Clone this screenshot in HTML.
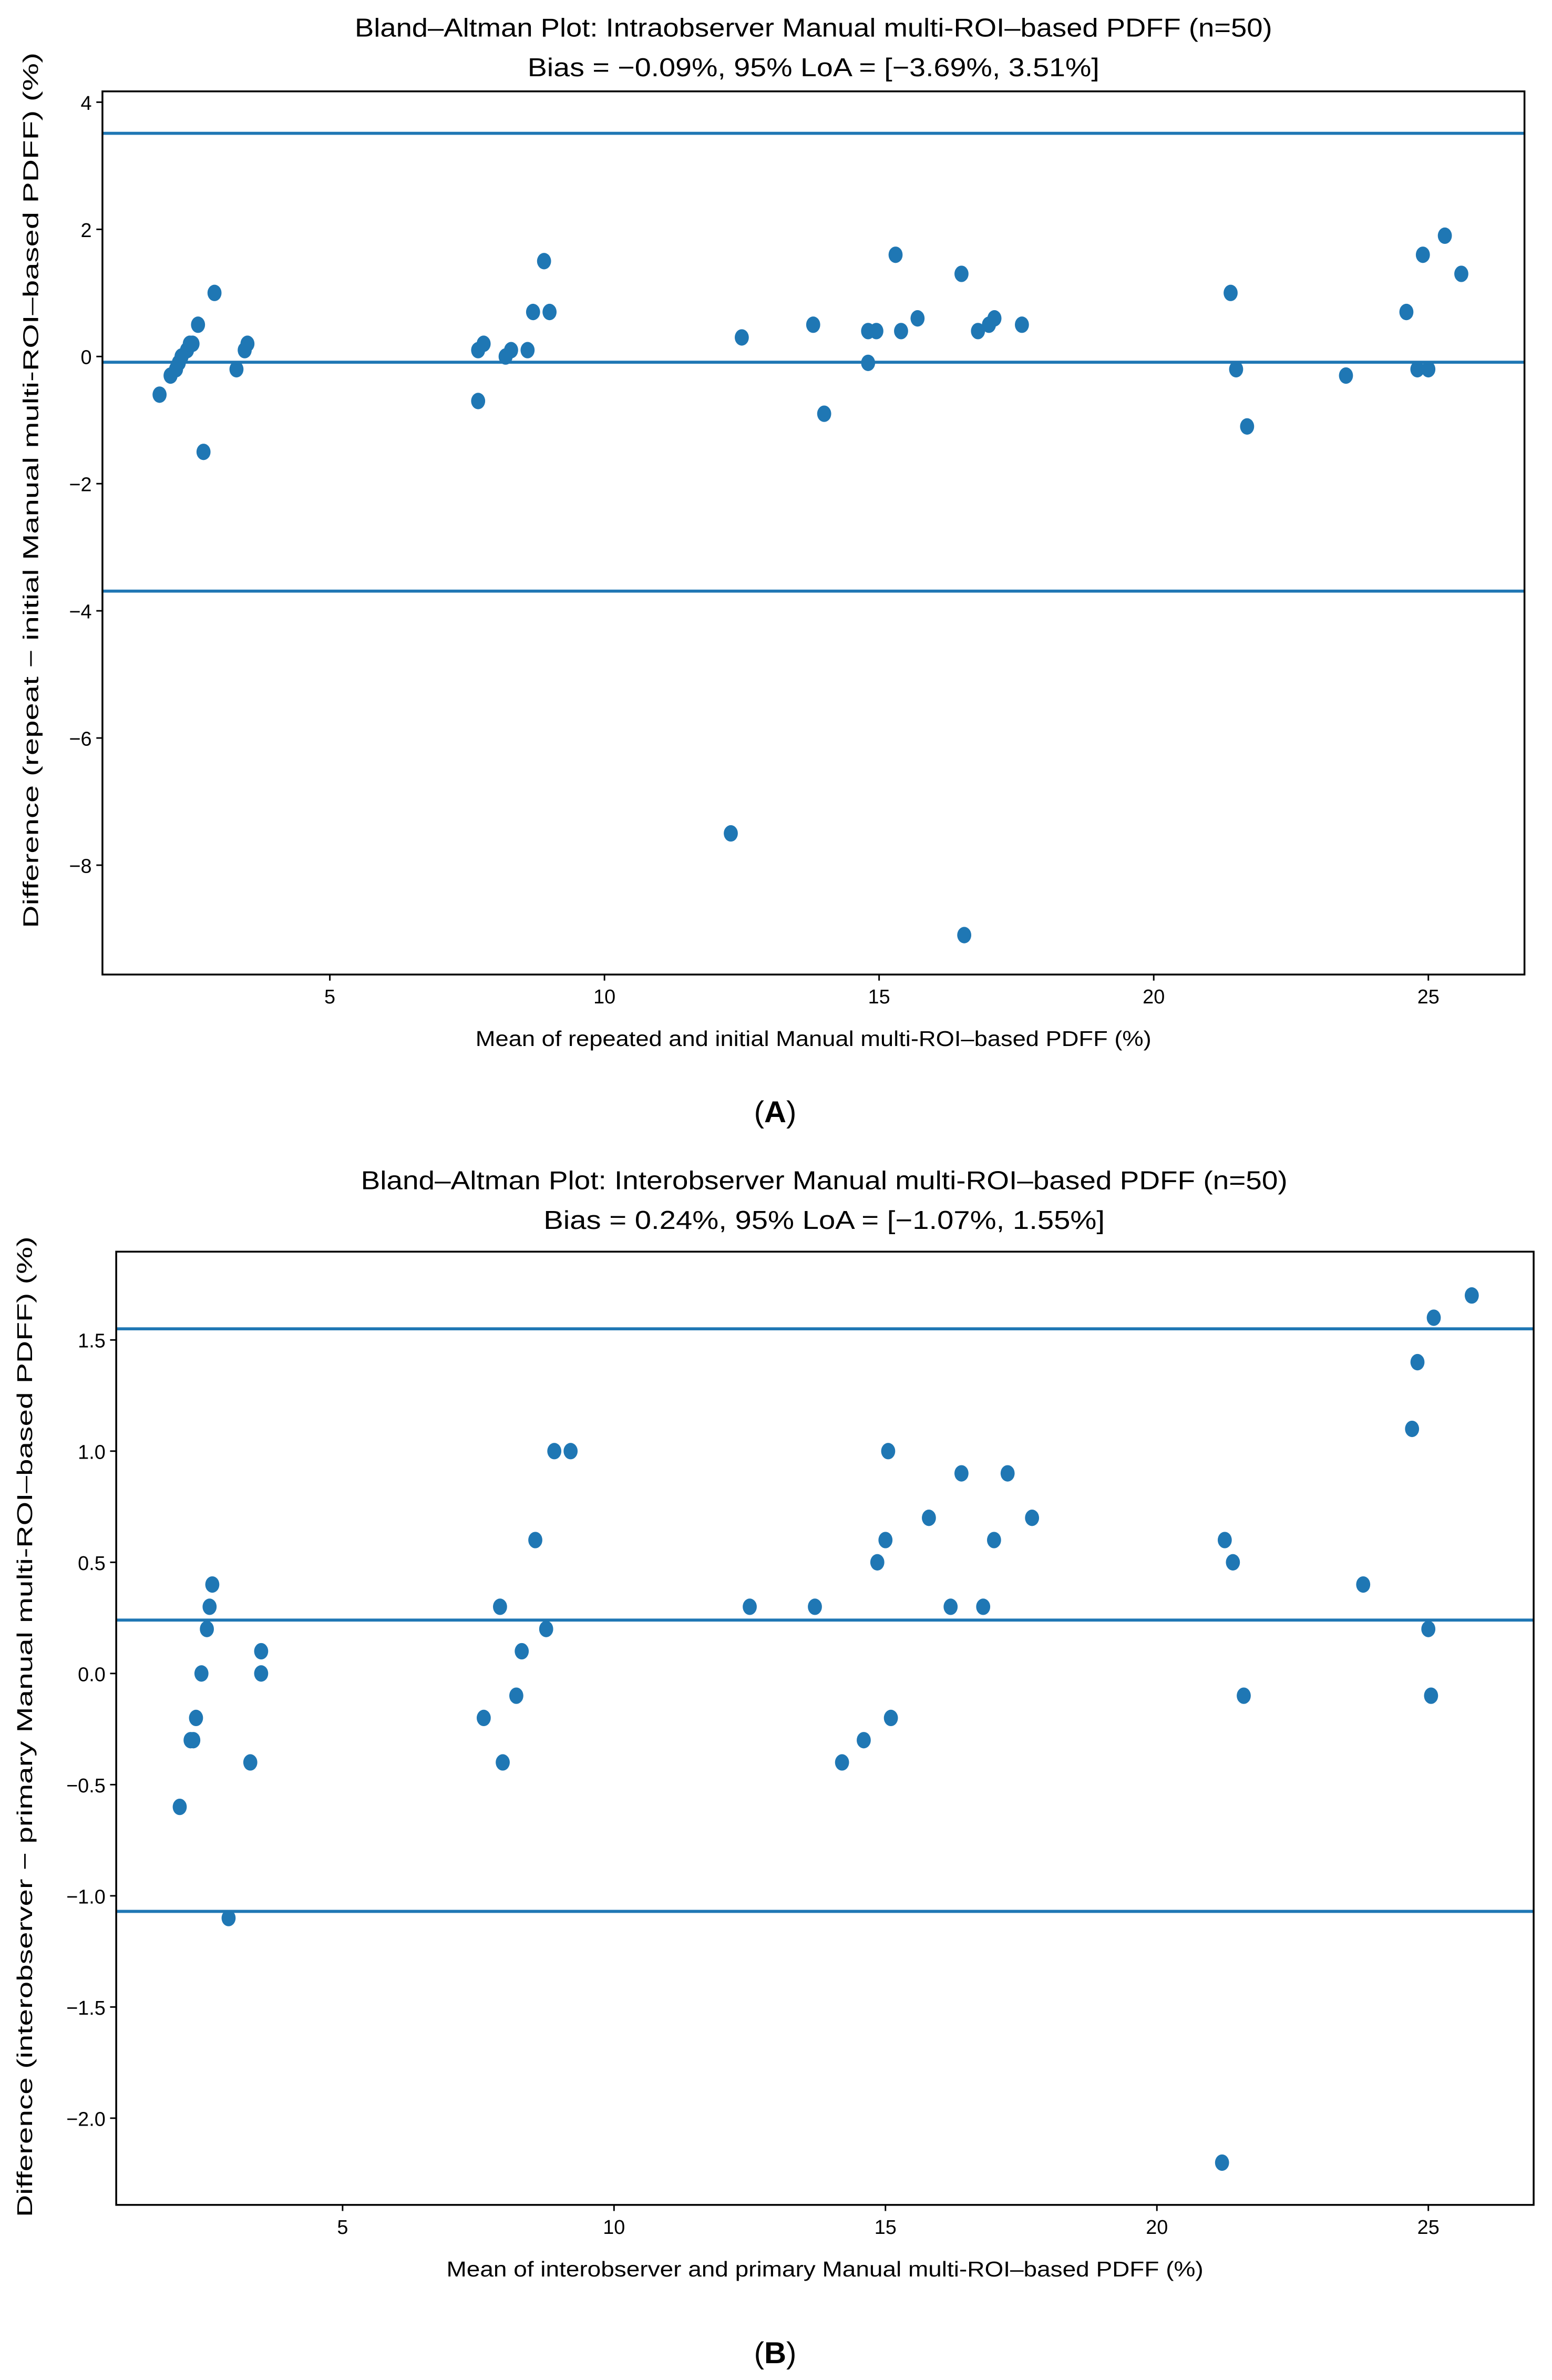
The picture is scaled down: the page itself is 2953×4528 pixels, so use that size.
<!DOCTYPE html>
<html><head><meta charset="utf-8"><style>
html,body{margin:0;padding:0;background:#fff;}
svg{display:block;}
text{font-family:"Liberation Sans",sans-serif;fill:#000;}
</style></head>
<body>
<svg id="chart" width="2953" height="4528" viewBox="0 0 1015 1563" preserveAspectRatio="none" xmlns="http://www.w3.org/2000/svg">
<rect width="1015" height="1563" fill="#fff"/>
<g id="pa"></g>
<g id="pb"></g>
<text x="507" y="737" text-anchor="middle" font-family="Liberation Serif" font-size="20">(<tspan font-weight="bold">A</tspan>)</text>
<text x="507" y="1552" text-anchor="middle" font-family="Liberation Serif" font-size="20">(<tspan font-weight="bold">B</tspan>)</text>
</svg>
<script>
const aX=[1.9,2.1,2.2,2.25,2.3,2.4,2.45,2.5,2.6,2.7,2.9,3.3,3.45,3.5,7.7,7.7,7.8,8.2,8.3,8.6,8.7,8.9,9.0,12.3,12.5,13.8,14.0,14.8,14.8,14.95,15.3,15.4,15.7,16.5,16.55,16.8,17.0,17.1,17.6,21.4,21.5,21.7,23.5,24.6,24.8,24.9,25.0,25.3,25.6];
const aY=[-0.6,-0.3,-0.2,-0.1,0,0.1,0.2,0.2,0.5,-1.5,1.0,-0.2,0.1,0.2,-0.7,0.1,0.2,0,0.1,0.1,0.7,1.5,0.7,-7.5,0.3,0.5,-0.9,-0.1,0.4,0.4,1.6,0.4,0.6,1.3,-9.1,0.4,0.5,0.6,0.5,1.0,-0.2,-1.1,-0.3,0.7,-0.2,1.6,-0.2,1.9,1.3];
const aLines=[3.51,-0.09,-3.69];
const aXTicks=[5,10,15,20,25];
const aYTicks=[4,2,0,-2,-4,-6,-8];
const bX=[2.0,2.2,2.25,2.3,2.4,2.5,2.55,2.6,2.9,3.3,3.5,3.5,7.6,7.9,7.95,8.2,8.3,8.55,8.75,8.9,9.2,12.5,13.7,14.2,14.6,14.85,15.0,15.05,15.1,15.8,16.2,16.4,16.8,17.0,17.25,17.7,21.2,21.25,21.4,21.6,23.8,24.7,24.8,25.0,25.05,25.1,25.8];
const bY=[-0.6,-0.3,-0.3,-0.2,0,0.2,0.3,0.4,-1.1,-0.4,0.0,0.1,-0.2,0.3,-0.4,-0.1,0.1,0.6,0.2,1.0,1.0,0.3,0.3,-0.4,-0.3,0.5,0.6,1.0,-0.2,0.7,0.3,0.9,0.3,0.6,0.9,0.7,-2.2,0.6,0.5,-0.1,0.4,1.1,1.4,0.2,-0.1,1.6,1.7];
const bLines=[1.55,0.24,-1.07];
const bXTicks=[5,10,15,20,25];
const bYTicks=[1.5,1.0,0.5,0.0,-0.5,-1.0,-1.5,-2.0];
const NS="http://www.w3.org/2000/svg";
function mk(p,t,a){const e=document.createElementNS(NS,t);for(const k in a)e.setAttribute(k,a[k]);p.appendChild(e);return e;}
function fmt(v,d){let s=v.toFixed(d);return s.replace('-','\u2212');}
function panel(g,cfg){
  const sx=v=>cfg.L+(v-cfg.x0)/(cfg.x1-cfg.x0)*(cfg.R-cfg.L);
  const sy=v=>cfg.B-(v-cfg.y0)/(cfg.y1-cfg.y0)*(cfg.B-cfg.T);
  let t=mk(g,'text',{x:cfg.cx,y:cfg.T-cfg.tOff,'text-anchor':'middle','font-size':17,textLength:cfg.t1w,lengthAdjust:'spacingAndGlyphs'});t.textContent=cfg.title1;
  
  t=mk(g,'text',{x:cfg.cx,y:cfg.T-cfg.tOff+26,'text-anchor':'middle','font-size':17,textLength:cfg.t2w,lengthAdjust:'spacingAndGlyphs'});t.textContent=cfg.title2;
  
  cfg.lines.forEach(v=>{const l=mk(g,'line',{x1:cfg.L,x2:cfg.R,y1:sy(v),y2:sy(v),stroke:'#1f77b4','stroke-width':2});
    });
  cfg.xs.forEach((x,i)=>{const c=mk(g,'ellipse',{cx:sx(x),cy:sy(cfg.ys[i]),rx:4.6,ry:5.4,fill:'#1f77b4'});
    });
  const f=mk(g,'rect',{x:cfg.L,y:cfg.T,width:cfg.R-cfg.L,height:cfg.B-cfg.T,fill:'none',stroke:'#000','stroke-width':1.2});
  
  cfg.xt.forEach(v=>{mk(g,'line',{x1:sx(v),x2:sx(v),y1:cfg.B,y2:cfg.B+4,stroke:'#000'});
    const tt=mk(g,'text',{x:sx(v),y:cfg.B+19,'text-anchor':'middle','font-size':13});tt.textContent=v;
    });
  cfg.yt.forEach(v=>{mk(g,'line',{x1:cfg.L-4,x2:cfg.L,y1:sy(v),y2:sy(v),stroke:'#000'});
    const tt=mk(g,'text',{x:cfg.L-7,y:sy(v)+5,'text-anchor':'end','font-size':13});tt.textContent=fmt(v,cfg.yd);
    });
  t=mk(g,'text',{x:(cfg.L+cfg.R)/2,y:cfg.B+47,'text-anchor':'middle','font-size':14,textLength:cfg.xlw,lengthAdjust:'spacingAndGlyphs'});t.textContent=cfg.xl;
  
  const yc=cfg.ylc;
  t=mk(g,'text',{x:0,y:0,'text-anchor':'middle','font-size':14,textLength:cfg.ylw,lengthAdjust:'spacingAndGlyphs',transform:`translate(${cfg.ylx},${yc}) rotate(-90)`});t.textContent=cfg.yl;
  
}
panel(document.getElementById('pa'),{L:67,R:997,T:60,B:640,x0:0.86,x1:26.75,y0:-9.72,y1:4.17,tOff:36,
  xs:aX,ys:aY,lines:aLines,xt:aXTicks,yt:aYTicks,yd:0,cx:532,
  title1:'Bland\u2013Altman Plot: Intraobserver Manual multi-ROI\u2013based PDFF (n=50)',t1w:600,
  title2:'Bias = \u22120.09%, 95% LoA = [\u22123.69%, 3.51%]',t2w:374,
  xl:'Mean of repeated and initial Manual multi-ROI\u2013based PDFF (%)',xlw:442,
  yl:'Difference (repeat \u2212 initial Manual multi-ROI\u2013based PDFF) (%)',ylw:575,ylx:25,ylc:322});
panel(document.getElementById('pb'),{L:76,R:1003,T:822,B:1448,x0:0.83,x1:26.94,y0:-2.39,y1:1.897,tOff:41,
  xs:bX,ys:bY,lines:bLines,xt:bXTicks,yt:bYTicks,yd:1,cx:539,
  title1:'Bland\u2013Altman Plot: Interobserver Manual multi-ROI\u2013based PDFF (n=50)',t1w:606,
  title2:'Bias = 0.24%, 95% LoA = [\u22121.07%, 1.55%]',t2w:367,
  xl:'Mean of interobserver and primary Manual multi-ROI\u2013based PDFF (%)',xlw:495,
  yl:'Difference (interobserver \u2212 primary Manual multi-ROI\u2013based PDFF) (%)',ylw:644,ylx:21,ylc:1134});
</script>
</body></html>
